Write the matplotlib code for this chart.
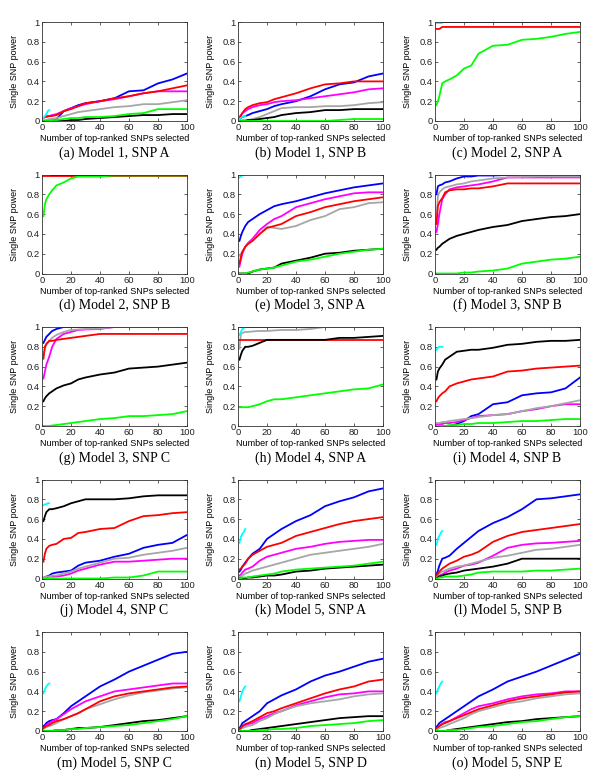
import matplotlib
matplotlib.use('Agg')
import matplotlib.pyplot as plt
import numpy as np

X = [1, 2, 3, 5, 7, 10, 15, 20, 25, 30, 40, 50, 60, 70, 80, 90, 100]
X_CYAN = [1, 2, 3, 4, 5]

ONE = [1.0] * len(X)

panel_a = {
    'blue':    [0, 0, 0, 0, 0, 0.02, 0.1, 0.13, 0.16, 0.18, 0.2, 0.23, 0.3, 0.31, 0.38, 0.42, 0.48],
    'magenta': [0.03, 0.04, 0.05, 0.05, 0.06, 0.07, 0.1, 0.13, 0.15, 0.17, 0.2, 0.22, 0.25, 0.28, 0.3, 0.3, 0.3],
    'gray':    [0, 0.01, 0.01, 0.02, 0.02, 0.03, 0.05, 0.07, 0.09, 0.1, 0.12, 0.14, 0.15, 0.17, 0.17, 0.19, 0.21],
    'red':     [0.03, 0.04, 0.04, 0.05, 0.05, 0.06, 0.1, 0.12, 0.15, 0.18, 0.2, 0.23, 0.25, 0.28, 0.3, 0.33, 0.36],
    'black':   [0, 0, 0, 0, 0, 0, 0, 0.01, 0.01, 0.02, 0.03, 0.04, 0.05, 0.06, 0.06, 0.07, 0.07],
    'green':   [0, 0, 0, 0, 0.01, 0.01, 0.02, 0.03, 0.03, 0.04, 0.04, 0.05, 0.07, 0.08, 0.12, 0.12, 0.12],
    'cyan':    [0.03, 0.05, 0.07, 0.1, 0.11],
}
panel_b = {
    'blue':    [0.02, 0.03, 0.04, 0.05, 0.06, 0.08, 0.1, 0.12, 0.15, 0.17, 0.2, 0.25, 0.32, 0.37, 0.39, 0.45, 0.48],
    'magenta': [0.04, 0.06, 0.08, 0.1, 0.12, 0.14, 0.16, 0.17, 0.19, 0.2, 0.21, 0.23, 0.25, 0.27, 0.29, 0.32, 0.33],
    'gray':    [0, 0, 0.01, 0.01, 0.01, 0.02, 0.04, 0.07, 0.1, 0.13, 0.14, 0.14, 0.15, 0.15, 0.16, 0.18, 0.19],
    'red':     [0.02, 0.05, 0.08, 0.12, 0.14, 0.16, 0.18, 0.19, 0.22, 0.24, 0.28, 0.33, 0.37, 0.38, 0.4, 0.4, 0.4],
    'black':   [0, 0, 0, 0, 0.01, 0.01, 0.02, 0.03, 0.04, 0.06, 0.08, 0.09, 0.11, 0.11, 0.12, 0.12, 0.12],
    'green':   [0, 0, 0, 0, 0, 0, 0, 0, 0, 0, 0, 0, 0, 0.01, 0.02, 0.02, 0.02],
    'cyan':    [0.02, 0.03, 0.04, 0.05, 0.05],
}
panel_c = {
    'blue':    ONE,
    'magenta': ONE,
    'gray':    ONE,
    'black':   ONE,
    'red':     [0.93, 0.93, 0.93, 0.95, 0.95, 0.95, 0.95, 0.95, 0.95, 0.95, 0.95, 0.95, 0.95, 0.95, 0.95, 0.95, 0.95],
    'green':   [0.16, 0.2, 0.25, 0.38, 0.4, 0.42, 0.46, 0.53, 0.56, 0.68, 0.76, 0.77, 0.82, 0.83, 0.85, 0.88, 0.9],
    'cyan':    [0.99, 0.99, 0.99, 0.99, 0.99],
}
panel_d = {
    'blue':    ONE,
    'magenta': ONE,
    'gray':    ONE,
    'black':   ONE,
    'green':   [0.58, 0.7, 0.75, 0.8, 0.84, 0.89, 0.92, 0.96, 0.98, 0.98, 0.98, 0.99, 0.99, 0.99, 0.99, 0.99, 0.99],
    'red':     [0.985] * 17,
    'cyan':    [0.99, 0.99, 0.99, 0.99, 0.99],
}
panel_e = {
    'blue':    [0.33, 0.38, 0.42, 0.48, 0.52, 0.55, 0.6, 0.64, 0.68, 0.7, 0.73, 0.77, 0.81, 0.84, 0.87, 0.89, 0.91],
    'magenta': [0.07, 0.14, 0.2, 0.27, 0.31, 0.35, 0.44, 0.5, 0.55, 0.58, 0.67, 0.71, 0.75, 0.78, 0.81, 0.82, 0.82],
    'gray':    [0.18, 0.2, 0.22, 0.27, 0.3, 0.33, 0.4, 0.47, 0.46, 0.45, 0.48, 0.54, 0.58, 0.65, 0.67, 0.71, 0.72],
    'red':     [0.1, 0.17, 0.22, 0.27, 0.3, 0.33, 0.4, 0.46, 0.48, 0.5, 0.58, 0.62, 0.67, 0.7, 0.73, 0.75, 0.77],
    'black':   [0, 0, 0, 0, 0, 0.02, 0.04, 0.05, 0.06, 0.1, 0.13, 0.16, 0.2, 0.21, 0.23, 0.24, 0.25],
    'green':   [0, 0, 0, 0, 0.01, 0.02, 0.04, 0.05, 0.06, 0.08, 0.12, 0.14, 0.17, 0.2, 0.22, 0.24, 0.25],
    'cyan':    [0.97, 0.98, 0.99, 1.0, 1.0],
}
panel_f = {
    'blue':    [0.8, 0.88, 0.89, 0.9, 0.92, 0.93, 0.96, 0.98, 0.98, 0.99, 0.99, 0.995, 1, 1, 1, 1, 1],
    'magenta': [0.42, 0.5, 0.6, 0.75, 0.8, 0.85, 0.87, 0.88, 0.89, 0.9, 0.93, 0.97, 0.97, 0.97, 0.97, 0.97, 0.97],
    'gray':    [0.55, 0.78, 0.82, 0.85, 0.87, 0.88, 0.9, 0.91, 0.93, 0.94, 0.96, 0.97, 0.975, 0.98, 0.98, 0.98, 0.98],
    'red':     [0.5, 0.68, 0.72, 0.76, 0.82, 0.84, 0.85, 0.85, 0.86, 0.86, 0.88, 0.91, 0.91, 0.91, 0.91, 0.91, 0.91],
    'black':   [0.24, 0.26, 0.27, 0.3, 0.32, 0.35, 0.38, 0.4, 0.42, 0.44, 0.47, 0.49, 0.53, 0.55, 0.57, 0.58, 0.6],
    'green':   [0, 0, 0, 0, 0, 0, 0, 0.01, 0.01, 0.02, 0.03, 0.05, 0.1, 0.12, 0.14, 0.15, 0.17],
    'cyan':    [0.995, 0.995, 0.995, 0.995, 0.995],
}
panel_g = {
    'blue':    [0.84, 0.87, 0.9, 0.93, 0.96, 0.98, 1, 1, 1, 1, 1, 1, 1, 1, 1, 1, 1],
    'magenta': [0.48, 0.55, 0.62, 0.7, 0.8, 0.88, 0.93, 0.95, 0.97, 0.975, 0.98, 1, 1, 1, 1, 1, 1],
    'gray':    [0.72, 0.78, 0.82, 0.86, 0.89, 0.92, 0.95, 0.97, 0.975, 0.98, 0.985, 1, 1, 1, 1, 1, 1],
    'red':     [0.68, 0.8, 0.83, 0.86, 0.86, 0.87, 0.88, 0.89, 0.9, 0.91, 0.93, 0.93, 0.93, 0.93, 0.93, 0.93, 0.93],
    'black':   [0.25, 0.28, 0.3, 0.33, 0.35, 0.38, 0.41, 0.43, 0.47, 0.49, 0.52, 0.54, 0.58, 0.59, 0.6, 0.62, 0.64],
    'green':   [0, 0, 0, 0, 0.005, 0.01, 0.02, 0.03, 0.04, 0.05, 0.07, 0.08, 0.1, 0.1, 0.11, 0.12, 0.15],
    'cyan':    [0.995, 0.995, 0.995, 0.995, 0.995],
}
panel_h = {
    'blue':    ONE,
    'magenta': ONE,
    'gray':    [0.78, 0.93, 0.94, 0.95, 0.95, 0.955, 0.96, 0.96, 0.965, 0.97, 0.97, 0.98, 1, 1, 1, 1, 1],
    'red':     [0.87] * 17,
    'black':   [0.67, 0.72, 0.76, 0.8, 0.8, 0.81, 0.84, 0.87, 0.87, 0.87, 0.87, 0.87, 0.87, 0.89, 0.89, 0.9, 0.91],
    'green':   [0.19, 0.19, 0.19, 0.19, 0.19, 0.2, 0.22, 0.25, 0.27, 0.27, 0.29, 0.31, 0.33, 0.35, 0.37, 0.38, 0.42],
    'cyan':    [0.92, 0.95, 0.98, 0.99, 1.0],
}
panel_i = {
    'blue':    [0, 0, 0, 0, 0, 0, 0.02, 0.05, 0.1, 0.12, 0.22, 0.24, 0.31, 0.33, 0.34, 0.38, 0.49],
    'magenta': [0.02, 0.02, 0.02, 0.02, 0.03, 0.03, 0.04, 0.06, 0.08, 0.1, 0.11, 0.12, 0.15, 0.17, 0.2, 0.22, 0.22],
    'gray':    [0.03, 0.03, 0.03, 0.04, 0.04, 0.05, 0.06, 0.07, 0.08, 0.09, 0.11, 0.12, 0.15, 0.18, 0.2, 0.23, 0.26],
    'red':     [0.25, 0.28, 0.3, 0.33, 0.35, 0.4, 0.43, 0.45, 0.47, 0.48, 0.5, 0.55, 0.56, 0.58, 0.59, 0.6, 0.61],
    'black':   [0.47, 0.55, 0.58, 0.62, 0.67, 0.7, 0.75, 0.76, 0.77, 0.77, 0.79, 0.82, 0.83, 0.85, 0.86, 0.86, 0.87],
    'green':   [0, 0, 0, 0, 0, 0.01, 0.01, 0.02, 0.02, 0.03, 0.03, 0.04, 0.05, 0.05, 0.06, 0.07, 0.07],
    'cyan':    [0.77, 0.79, 0.8, 0.8, 0.8],
}
panel_j = {
    'blue':    [0, 0.01, 0.02, 0.03, 0.05, 0.06, 0.07, 0.08, 0.13, 0.16, 0.18, 0.22, 0.25, 0.31, 0.34, 0.36, 0.44],
    'magenta': [0.01, 0.01, 0.01, 0.02, 0.02, 0.02, 0.03, 0.05, 0.08, 0.1, 0.14, 0.17, 0.17, 0.18, 0.19, 0.2, 0.2],
    'gray':    [0.01, 0.01, 0.02, 0.02, 0.03, 0.03, 0.05, 0.07, 0.1, 0.12, 0.16, 0.2, 0.21, 0.24, 0.26, 0.28, 0.31],
    'red':     [0.17, 0.25, 0.3, 0.33, 0.34, 0.35, 0.4, 0.41, 0.46, 0.47, 0.5, 0.51, 0.58, 0.63, 0.64, 0.66, 0.67],
    'black':   [0.58, 0.63, 0.67, 0.7, 0.7, 0.71, 0.73, 0.76, 0.78, 0.8, 0.8, 0.8, 0.81, 0.83, 0.84, 0.84, 0.84],
    'green':   [0, 0, 0, 0, 0, 0, 0, 0, 0, 0, 0, 0.01, 0.01, 0.03, 0.07, 0.07, 0.07],
    'cyan':    [0.74, 0.75, 0.75, 0.76, 0.76],
}
panel_k = {
    'blue':    [0.07, 0.09, 0.12, 0.16, 0.2, 0.25, 0.3, 0.4, 0.45, 0.5, 0.58, 0.64, 0.73, 0.78, 0.82, 0.88, 0.91],
    'magenta': [0.03, 0.04, 0.06, 0.09, 0.1, 0.12, 0.18, 0.22, 0.24, 0.26, 0.3, 0.32, 0.35, 0.37, 0.38, 0.39, 0.39],
    'gray':    [0.01, 0.02, 0.03, 0.05, 0.06, 0.08, 0.1, 0.12, 0.14, 0.16, 0.2, 0.24, 0.26, 0.28, 0.3, 0.32, 0.35],
    'red':     [0.09, 0.1, 0.12, 0.15, 0.2, 0.24, 0.28, 0.32, 0.34, 0.36, 0.43, 0.47, 0.51, 0.55, 0.58, 0.6, 0.62],
    'black':   [0, 0, 0, 0, 0.01, 0.01, 0.02, 0.03, 0.03, 0.04, 0.07, 0.08, 0.1, 0.11, 0.12, 0.13, 0.14],
    'green':   [0, 0, 0.01, 0.01, 0.01, 0.02, 0.03, 0.04, 0.05, 0.07, 0.09, 0.1, 0.11, 0.12, 0.13, 0.15, 0.17],
    'cyan':    [0.36, 0.42, 0.45, 0.47, 0.5],
}
panel_l = {
    'blue':    [0.04, 0.08, 0.13, 0.2, 0.21, 0.23, 0.3, 0.36, 0.42, 0.48, 0.56, 0.62, 0.7, 0.8, 0.81, 0.83, 0.85],
    'magenta': [0.01, 0.02, 0.03, 0.04, 0.06, 0.08, 0.1, 0.13, 0.14, 0.16, 0.23, 0.31, 0.34, 0.355, 0.36, 0.37, 0.38],
    'gray':    [0.02, 0.04, 0.05, 0.07, 0.08, 0.1, 0.12, 0.13, 0.15, 0.17, 0.21, 0.23, 0.26, 0.29, 0.3, 0.32, 0.34],
    'red':     [0.03, 0.05, 0.07, 0.1, 0.12, 0.15, 0.18, 0.22, 0.24, 0.27, 0.37, 0.43, 0.47, 0.49, 0.51, 0.53, 0.55],
    'black':   [0, 0.01, 0.02, 0.03, 0.04, 0.05, 0.06, 0.08, 0.09, 0.1, 0.12, 0.15, 0.2, 0.2, 0.2, 0.2, 0.2],
    'green':   [0, 0, 0.01, 0.01, 0.02, 0.02, 0.02, 0.03, 0.04, 0.06, 0.07, 0.07, 0.07, 0.08, 0.08, 0.09, 0.1],
    'cyan':    [0.34, 0.4, 0.43, 0.46, 0.48],
}
panel_m = {
    'blue':    [0.05, 0.06, 0.08, 0.1, 0.11, 0.12, 0.18, 0.25, 0.3, 0.35, 0.45, 0.52, 0.6, 0.66, 0.72, 0.78, 0.8],
    'magenta': [0.03, 0.04, 0.06, 0.08, 0.1, 0.12, 0.17, 0.22, 0.26, 0.3, 0.35, 0.4, 0.42, 0.44, 0.46, 0.48, 0.48],
    'gray':    [0.02, 0.03, 0.04, 0.05, 0.06, 0.08, 0.12, 0.15, 0.18, 0.22, 0.27, 0.32, 0.36, 0.39, 0.41, 0.43, 0.44],
    'red':     [0.03, 0.04, 0.05, 0.06, 0.08, 0.1, 0.12, 0.15, 0.18, 0.22, 0.3, 0.35, 0.38, 0.4, 0.42, 0.44, 0.45],
    'black':   [0, 0, 0, 0, 0, 0.01, 0.01, 0.02, 0.03, 0.03, 0.04, 0.06, 0.08, 0.1, 0.11, 0.13, 0.15],
    'green':   [0, 0, 0, 0, 0, 0.01, 0.01, 0.02, 0.02, 0.03, 0.04, 0.05, 0.06, 0.08, 0.1, 0.12, 0.15],
    'cyan':    [0.38, 0.42, 0.45, 0.47, 0.48],
}
panel_n = {
    'blue':    [0.03, 0.05, 0.08, 0.1, 0.12, 0.15, 0.2, 0.28, 0.32, 0.36, 0.42, 0.5, 0.56, 0.6, 0.65, 0.7, 0.73],
    'magenta': [0.02, 0.03, 0.04, 0.06, 0.07, 0.08, 0.12, 0.15, 0.18, 0.2, 0.26, 0.3, 0.34, 0.37, 0.38, 0.4, 0.4],
    'gray':    [0.01, 0.02, 0.03, 0.04, 0.05, 0.06, 0.1, 0.13, 0.17, 0.2, 0.25, 0.28, 0.3, 0.32, 0.35, 0.37, 0.38],
    'red':     [0.02, 0.03, 0.05, 0.07, 0.08, 0.1, 0.14, 0.18, 0.2, 0.23, 0.28, 0.33, 0.38, 0.42, 0.45, 0.5, 0.52],
    'black':   [0, 0, 0, 0, 0, 0.01, 0.02, 0.03, 0.04, 0.05, 0.07, 0.09, 0.11, 0.13, 0.14, 0.15, 0.15],
    'green':   [0, 0, 0, 0, 0, 0, 0.01, 0.01, 0.02, 0.02, 0.03, 0.05, 0.06, 0.07, 0.08, 0.1, 0.11],
    'cyan':    [0.3, 0.35, 0.4, 0.43, 0.45],
}
panel_o = {
    'blue':    [0.04, 0.06, 0.08, 0.1, 0.12, 0.15, 0.2, 0.25, 0.3, 0.35, 0.42, 0.5, 0.55, 0.6, 0.66, 0.72, 0.78],
    'magenta': [0.02, 0.03, 0.05, 0.07, 0.09, 0.1, 0.14, 0.18, 0.22, 0.25, 0.28, 0.32, 0.35, 0.37, 0.38, 0.4, 0.4],
    'gray':    [0.01, 0.02, 0.03, 0.04, 0.05, 0.07, 0.1, 0.13, 0.17, 0.2, 0.24, 0.28, 0.3, 0.33, 0.35, 0.37, 0.38],
    'red':     [0.03, 0.04, 0.05, 0.07, 0.08, 0.1, 0.13, 0.16, 0.19, 0.22, 0.26, 0.3, 0.33, 0.35, 0.37, 0.39, 0.4],
    'black':   [0, 0, 0, 0, 0, 0.01, 0.02, 0.03, 0.04, 0.05, 0.07, 0.09, 0.1, 0.12, 0.13, 0.14, 0.15],
    'green':   [0, 0, 0, 0, 0, 0.01, 0.01, 0.02, 0.03, 0.04, 0.05, 0.07, 0.09, 0.1, 0.12, 0.14, 0.15],
    'cyan':    [0.38, 0.42, 0.45, 0.48, 0.5],
}

panels = [panel_a, panel_b, panel_c, panel_d, panel_e, panel_f, panel_g, panel_h,
          panel_i, panel_j, panel_k, panel_l, panel_m, panel_n, panel_o]
captions = ['(a) Model 1, SNP A', '(b) Model 1, SNP B', '(c) Model 2, SNP A',
            '(d) Model 2, SNP B', '(e) Model 3, SNP A', '(f) Model 3, SNP B',
            '(g) Model 3, SNP C', '(h) Model 4, SNP A', '(i) Model 4, SNP B',
            '(j) Model 4, SNP C', '(k) Model 5, SNP A', '(l) Model 5, SNP B',
            '(m) Model 5, SNP C', '(n) Model 5, SNP D', '(o) Model 5, SNP E']

colors = {
    'blue': '#0000ff', 'magenta': '#ff00ff', 'gray': '#a6a6a6', 'red': '#ff0000',
    'black': '#000000', 'green': '#00ff00', 'cyan': '#00ffff',
}
draw_order = ['blue', 'magenta', 'gray', 'red', 'black', 'green', 'cyan']

plt.rcParams.update({
    'font.family': ['Liberation Sans', 'DejaVu Sans'],
    'font.size': 6.5,
    'xtick.direction': 'in',
    'ytick.direction': 'in',
    'xtick.major.size': 2.2,
    'ytick.major.size': 2.2,
    'xtick.major.width': 0.5,
    'ytick.major.width': 0.5,
})

W, H = 600, 783
fig = plt.figure(figsize=(W / 100, H / 100), dpi=100)

col_left = [42, 238, 435]
row_top = [22, 174.5, 327, 479.5, 632]
ax_w, ax_h = 145, 99

for idx, data in enumerate(panels):
    r, c = divmod(idx, 3)
    left = col_left[c] / W
    bottom = 1 - (row_top[r] + ax_h) / H
    ax = fig.add_axes([left, bottom, ax_w / W, ax_h / H])

    for name in draw_order:
        if name not in data:
            continue
        xs = X_CYAN if name == 'cyan' else X
        ax.plot(xs, data[name], color=colors[name], lw=1.3, solid_joinstyle='miter')

    ax.set_xlim(0, 100)
    ax.set_ylim(0, 1)
    ax.set_xticks([0, 20, 40, 60, 80, 100])
    ax.set_yticks([0, 0.2, 0.4, 0.6, 0.8, 1])
    ax.set_yticklabels(['0', '0.2', '0.4', '0.6', '0.8', '1'])
    ax.tick_params(top=True, right=True, labelsize=6.8, pad=1.5, colors='#222222')
    for sp in ax.spines.values():
        sp.set_linewidth(0.6)
        sp.set_color('#333333')

    ax.set_xlabel('Number of top-ranked SNPs selected', fontsize=6.5, labelpad=1.5)
    ax.set_ylabel('Single SNP power', fontsize=6.5)
    ax.yaxis.set_label_coords(-0.16, 0.5)

    # caption under each panel
    fig.text(left + ax_w / W / 2, 1 - (row_top[r] + ax_h + 32) / H, captions[idx],
             ha='center', va='center', fontsize=10, family='Liberation Serif')

fig.savefig('out.png', dpi=100)
